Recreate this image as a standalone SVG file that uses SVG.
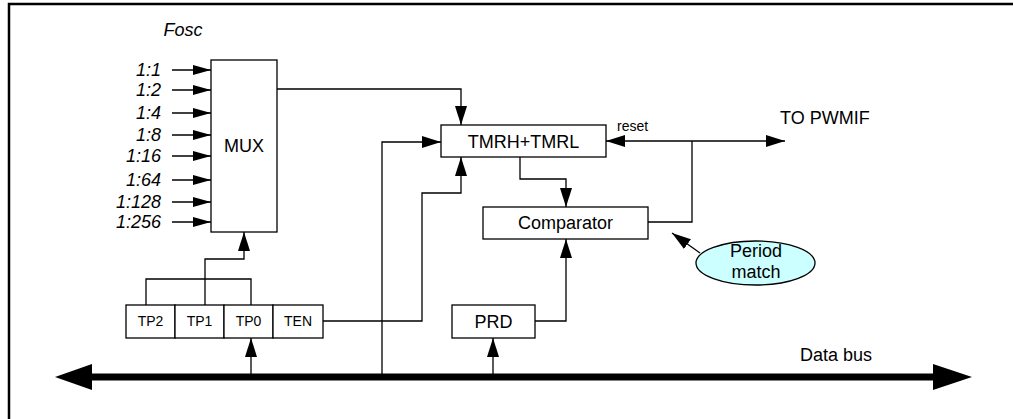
<svg xmlns="http://www.w3.org/2000/svg" width="1013" height="419" viewBox="0 0 1013 419">
<defs>
<style>
.box{fill:#fff;stroke:#000;stroke-width:1.3}
.ln{fill:none;stroke:#000;stroke-width:1.3}
.t{font-family:"Liberation Sans",Arial,sans-serif;font-size:18px;fill:#000}
.it{font-family:"Liberation Sans",Arial,sans-serif;font-size:18px;font-style:italic;fill:#000;text-anchor:end}
.s{font-family:"Liberation Sans",Arial,sans-serif;font-size:14px;fill:#000}
.c{text-anchor:middle}
</style>
<marker id="ah" markerUnits="userSpaceOnUse" markerWidth="20" markerHeight="14" refX="19" refY="6" orient="auto">
<path d="M0,0 L19,6 L0,12 Z" fill="#000"/>
</marker>
<marker id="as" markerUnits="userSpaceOnUse" markerWidth="20" markerHeight="12" refX="18" refY="5" orient="auto">
<path d="M0,0 L18,5 L0,10 Z" fill="#000"/>
</marker>
</defs>
<rect width="1013" height="419" fill="#fff"/>
<path d="M9,419 V4 H1013" fill="none" stroke="#000" stroke-width="2.5"/>

<g id="connectors">
<g class="ln" marker-end="url(#as)">
<path d="M172,70 H211"/>
<path d="M172,90 H211"/>
<path d="M172,113 H211"/>
<path d="M172,135 H211"/>
<path d="M172,156 H211"/>
<path d="M172,180 H211"/>
<path d="M172,202 H211"/>
<path d="M172,222 H211"/>
</g>
<g class="ln" marker-end="url(#ah)">
<path d="M277,89 H461 V125"/>
<path d="M205,305 V259 H244 V232"/>
<path d="M251,377 V338"/>
<path d="M382,377 V142 H441"/>
<path d="M323,321 H422 V193 H461 V157"/>
<path d="M520,157 V179 H566 V207"/>
<path d="M535,321 H566 V239"/>
<path d="M493,377 V338"/>
<path d="M692,141 H606"/>
<path d="M692,141 H785"/>
<path d="M700,253 L672,233"/>
</g>
<path class="ln" d="M146,305 V279 H251 V305"/>
<path class="ln" d="M648,222 H692 V141"/>
<g id="databus">
<line x1="90" y1="377" x2="935" y2="377" stroke="#000" stroke-width="7"/>
<polygon points="55,377 92,364 92,390" fill="#000"/>
<polygon points="972,377 933,364 933,390" fill="#000"/>
</g>
</g>

<g id="labels">
<text class="it" x="183" y="36" style="text-anchor:middle">Fosc</text>
<text class="it" x="161" y="76">1:1</text>
<text class="it" x="161" y="96">1:2</text>
<text class="it" x="161" y="119">1:4</text>
<text class="it" x="161" y="141">1:8</text>
<text class="it" x="161" y="162">1:16</text>
<text class="it" x="161" y="186">1:64</text>
<text class="it" x="161" y="208">1:128</text>
<text class="it" x="161" y="228">1:256</text>
<text class="s" x="617" y="131">reset</text>
<text class="t" x="780" y="124">TO PWMIF</text>
<text class="t" x="800" y="361">Data bus</text>
</g>

<g id="mux">
<rect class="box" x="211" y="60" width="66" height="172"/>
<text class="t c" x="244" y="152">MUX</text>
</g>
<g id="tmr">
<rect class="box" x="441" y="125" width="165" height="32"/>
<text class="t c" x="523.5" y="147.5">TMRH+TMRL</text>
</g>
<g id="comparator">
<rect class="box" x="483" y="207" width="165" height="32"/>
<text class="t c" x="565.5" y="229">Comparator</text>
</g>
<g id="prd">
<rect class="box" x="452" y="305" width="83" height="33"/>
<text class="t c" x="493.5" y="328">PRD</text>
</g>
<g id="tp2">
<rect class="box" x="126" y="305" width="49" height="33"/>
<text class="s c" x="150.5" y="326">TP2</text>
</g>
<g id="tp1">
<rect class="box" x="175" y="305" width="49" height="33"/>
<text class="s c" x="199.5" y="326">TP1</text>
</g>
<g id="tp0">
<rect class="box" x="224" y="305" width="49" height="33"/>
<text class="s c" x="248.5" y="326">TP0</text>
</g>
<g id="ten">
<rect class="box" x="273" y="305" width="50" height="33"/>
<text class="s c" x="298" y="326">TEN</text>
</g>
<g id="period">
<ellipse cx="755.5" cy="263" rx="59.5" ry="22" fill="#ccffff" stroke="#000" stroke-width="1.3"/>
<text class="t c" x="756" y="257">Period</text>
<text class="t c" x="756" y="278">match</text>
</g>
</svg>
